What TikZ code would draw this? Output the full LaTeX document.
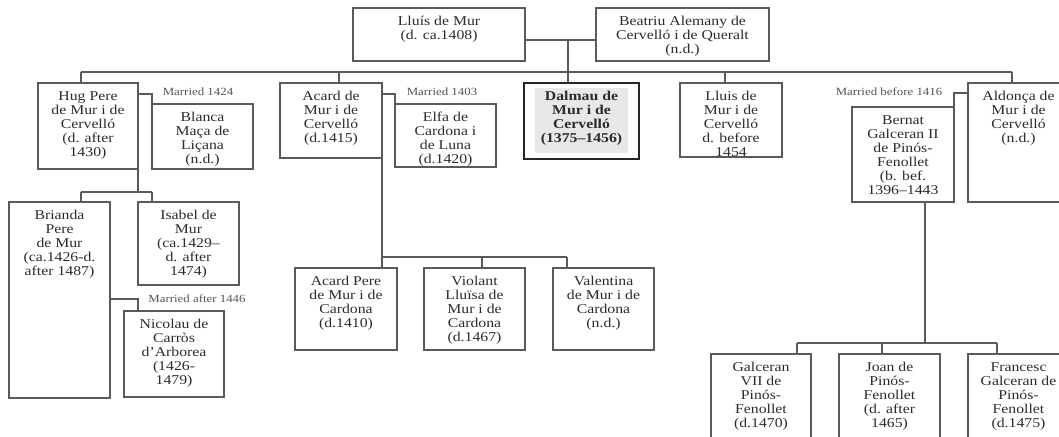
\documentclass[tikz,border=0pt]{standalone}
\usepackage{fontspec}
\setmainfont{Liberation Serif}[FakeStretch=1.17]
\definecolor{ln}{HTML}{5A5A5A}
\definecolor{tx}{HTML}{2B2B2B}
\definecolor{lb}{HTML}{555555}
\definecolor{dfill}{HTML}{E8E8E8}
\tikzset{
 pbox/.style={draw=ln, line width=0.9pt, inner sep=0pt, outer sep=0pt, rectangle},
 keybox/.style={draw=black!85, line width=2.2pt},
 ptext/.style={align=center, inner sep=0pt, text=tx, font=\fontsize{10.1pt}{10.5pt}\selectfont},
 conn/.style={draw=ln, line width=0.9pt},
 mlabel/.style={text=lb, inner sep=0pt, font=\fontsize{8.25pt}{9pt}\selectfont},
}
\newcommand\person[7]{%
 \node[pbox,#6, minimum width={(#4-#2)*0.75pt}, minimum height={(#5-#3)*0.75pt}, anchor=north west] (#1) at (#2,#3) {};
 \node[ptext, anchor=north] (#1-t) at ([yshift=-5.25pt]#1.north) {\strut #7};
}
\begin{document}
\begin{tikzpicture}[x=0.75pt,y=-0.75pt]
\useasboundingbox (0,0) rectangle (1059,436);
\clip (0,0) rectangle (1059,436);
% people
\person{lluis}{353}{8}{525}{61}{}{Lluís de Mur\\(d. ca.1408)}
\person{beatriu}{596}{8}{769}{61}{}{Beatriu Alemany de\\Cervelló i de Queralt\\(n.d.)}
\person{hug}{38}{83}{138}{169}{}{Hug Pere\\de Mur i de\\Cervelló\\(d. after\\1430)}
\person{blanca}{152}{104}{253}{169}{}{Blanca\\Maça de\\Liçana\\(n.d.)}
\person{acard}{280}{83}{382}{158}{}{Acard de\\Mur i de\\Cervelló\\(d.1415)}
\person{elfa}{395}{104}{496}{167}{}{Elfa de\\Cardona i\\de Luna\\(d.1420)}
\fill[dfill] (535,88) rectangle (628,153);
\person{dalmau}{524}{83}{639}{159}{keybox}{\bfseries Dalmau de\\\bfseries Mur i de\\\bfseries Cervelló\\\bfseries (1375–1456)}
\person{lluis2}{680}{83}{782}{157}{}{Lluis de\\Mur i de\\Cervelló\\d. before\\1454}
\person{bernat}{852}{107}{954}{202}{}{Bernat\\Galceran II\\de Pinós-\\Fenollet\\(b. bef.\\1396–1443}
\person{aldonca}{968}{83}{1069}{202}{}{Aldonça de\\Mur i de\\Cervelló\\(n.d.)}
\person{brianda}{9}{202}{110}{398}{}{Brianda\\Pere\\de Mur\\(ca.1426-d.\\after 1487)}
\person{isabel}{138}{202}{239}{285}{}{Isabel de\\Mur\\(ca.1429–\\d. after\\1474)}
\person{nicolau}{124}{311}{224}{397}{}{Nicolau de\\Carròs\\d’Arborea\\(1426-\\1479)}
\person{acardpere}{295}{268}{397}{350}{}{Acard Pere\\de Mur i de\\Cardona\\(d.1410)}
\person{violant}{424}{268}{525}{350}{}{Violant\\Lluïsa de\\Mur i de\\Cardona\\(d.1467)}
\person{valentina}{553}{268}{654}{350}{}{Valentina\\de Mur i de\\Cardona\\(n.d.)}
\person{galceran}{711}{354}{811}{450}{}{Galceran\\VII de\\Pinós-\\Fenollet\\(d.1470)}
\person{joan}{839}{354}{940}{450}{}{Joan de\\Pinós-\\Fenollet\\(d. after\\1465)}
\person{francesc}{968}{354}{1069}{450}{}{Francesc\\Galceran de\\Pinós-\\Fenollet\\(d.1475)}
% parents' marriage
\coordinate (m) at (568,40);
\draw[conn] (lluis.east |- m) -- (beatriu.west |- m);
\draw[conn] (m) -- (m |- dalmau.north);
% sibling bar
\coordinate (sL) at (81,72);
\coordinate (sA) at (339,72);
\coordinate (sB) at (725,72);
\coordinate (sR) at (1012,72);
\draw[conn] (sL) -- (sR);
\draw[conn] (sL) -- (sL |- hug.north);
\draw[conn] (sA) -- (sA |- acard.north);
\draw[conn] (sB) -- (sB |- lluis2.north);
\draw[conn] (sR) -- (sR |- aldonca.north);
% marriages
\coordinate (y94) at (0,94);
\coordinate (y93) at (0,93);
\draw[conn] (hug.east |- y94) -| (blanca.north west);
\node[mlabel] (l1) at (198,92) {Married 1424};
\draw[conn] (acard.east |- y94) -| (elfa.north west);
\node[mlabel] (l2) at (442,92) {Married 1403};
\draw[conn] (aldonca.west |- y93) -| (bernat.north east);
\node[mlabel] (l3) at (889,92) {Married before 1416};
\coordinate (bn) at (138,299);
\draw[conn] (brianda.east |- bn) -| (bn |- nicolau.north);
\node[mlabel] (l4) at (197,299) {Married after 1446};
% Hug's children
\coordinate (hc) at (138,192);
\coordinate (hl) at (81,192);
\coordinate (hr) at (152,192);
\draw[conn] (hc |- hug.south) -- (hc);
\draw[conn] (hl) -- (hr);
\draw[conn] (hl) -- (hl |- brianda.north);
\draw[conn] (hr) -- (hr |- isabel.north);
% Acard's children
\coordinate (ac) at (382,257);
\coordinate (am) at (482,257);
\coordinate (ar) at (567,257);
\draw[conn] (ac |- acard.south) -- (ac);
\draw[conn] (ac) -- (ar);
\draw[conn] (ac) -- (ac |- acardpere.north);
\draw[conn] (am) -- (am |- violant.north);
\draw[conn] (ar) -- (ar |- valentina.north);
% Bernat's children
\coordinate (bc) at (925,343);
\coordinate (bl) at (797,343);
\coordinate (bm) at (882,343);
\coordinate (br) at (997,343);
\draw[conn] (bc |- bernat.south) -- (bc);
\draw[conn] (bl) -- (br);
\draw[conn] (bl) -- (bl |- galceran.north);
\draw[conn] (bm) -- (bm |- joan.north);
\draw[conn] (br) -- (br |- francesc.north);
\end{tikzpicture}
\end{document}
